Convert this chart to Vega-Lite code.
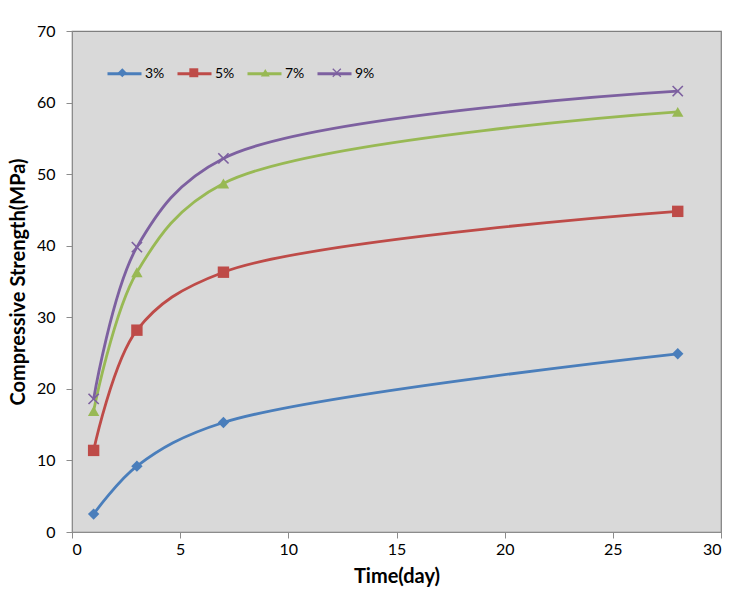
{
  "$schema": "https://vega.github.io/schema/vega-lite/v6.json",
  "width": 649,
  "height": 501,
  "autosize": "none",
  "padding": {"left": 72, "top": 31, "right": 20, "bottom": 64},
  "background": "white",
  "config": {
    "font": "Lato",
    "view": {"fill": "#d9d9d9", "stroke": "#7f7f7f", "strokeWidth": 1.2},
    "axis": {
      "grid": false,
      "domainColor": "#8c8c8c",
      "tickColor": "#8c8c8c",
      "tickSize": 6,
      "labelFont": "Lato",
      "labelFontSize": 16,
      "labelColor": "#000",
      "titleFont": "Lato",
      "titleFontSize": 20,
      "titleFontWeight": "bold",
      "titleColor": "#000"
    }
  },
  "data": {
    "values": [
      {"day": 1, "strength": 2.5, "series": "3%"},
      {"day": 3, "strength": 9.2, "series": "3%"},
      {"day": 7, "strength": 15.3, "series": "3%"},
      {"day": 28, "strength": 24.9, "series": "3%"},
      {"day": 1, "strength": 11.4, "series": "5%"},
      {"day": 3, "strength": 28.2, "series": "5%"},
      {"day": 7, "strength": 36.3, "series": "5%"},
      {"day": 28, "strength": 44.8, "series": "5%"},
      {"day": 1, "strength": 16.9, "series": "7%"},
      {"day": 3, "strength": 36.3, "series": "7%"},
      {"day": 7, "strength": 48.7, "series": "7%"},
      {"day": 28, "strength": 58.7, "series": "7%"},
      {"day": 1, "strength": 18.6, "series": "9%"},
      {"day": 3, "strength": 39.8, "series": "9%"},
      {"day": 7, "strength": 52.2, "series": "9%"},
      {"day": 28, "strength": 61.6, "series": "9%"}
    ]
  },
  "encoding": {
    "x": {
      "field": "day", "type": "quantitative",
      "scale": {"domain": [0, 30], "nice": false, "zero": false},
      "axis": {"values": [0, 5, 10, 15, 20, 25, 30], "title": "Time(day)", "labelPadding": 3, "titlePadding": 9}
    },
    "y": {
      "field": "strength", "type": "quantitative",
      "scale": {"domain": [0, 70], "nice": false},
      "axis": {"values": [0, 10, 20, 30, 40, 50, 60, 70], "title": "Compressive Strength(MPa)", "labelPadding": 11, "titlePadding": 8}
    }
  },
  "layer": [
    {
      "mark": {"type": "line", "interpolate": "catmull-rom", "strokeWidth": 2.8},
      "encoding": {
        "stroke": {
          "field": "series", "type": "nominal",
          "scale": {"range": ["#4a7ebb", "#be4b48", "#98b954", "#7d60a0"]},
          "legend": {
            "title": null, "orient": "none", "legendX": 34, "legendY": 24, "padding": 0, "direction": "horizontal",
            "symbolType": "stroke", "symbolSize": 1156, "symbolStrokeWidth": 2.8,
            "labelOffset": 2, "columnPadding": 6,
            "labelFontSize": 14, "labelFont": "Lato", "labelColor": "#000"
          }
        }
      }
    },
    {
      "mark": {"type": "point", "filled": true, "opacity": 1, "size": 130},
      "encoding": {
        "color": {
          "field": "series", "type": "nominal",
          "scale": {"domain": ["3%", "5%", "7%", "9%"], "range": ["#4a7ebb", "#be4b48", "#98b954", "#7d60a0"]},
          "legend": {
            "title": null, "orient": "none", "legendX": 44.8, "legendY": 36, "padding": 0, "direction": "horizontal",
            "symbolSize": 80, "labelExpr": "''", "labelOffset": 0, "columnPadding": 60.5
          }
        },
        "shape": {
          "field": "series", "type": "nominal",
          "scale": {"domain": ["3%", "5%", "7%", "9%"], "range": ["diamond", "square", "triangle-up", "M-0.8,-1L0,-0.2L0.8,-1L1,-0.8L0.2,0L1,0.8L0.8,1L0,0.2L-0.8,1L-1,0.8L-0.2,0L-1,-0.8Z"]},
          "legend": {
            "title": null, "orient": "none", "legendX": 44.8, "legendY": 36, "padding": 0, "direction": "horizontal",
            "symbolSize": 80, "labelExpr": "''", "labelOffset": 0, "columnPadding": 60.5
          }
        }
      }
    }
  ]
}
